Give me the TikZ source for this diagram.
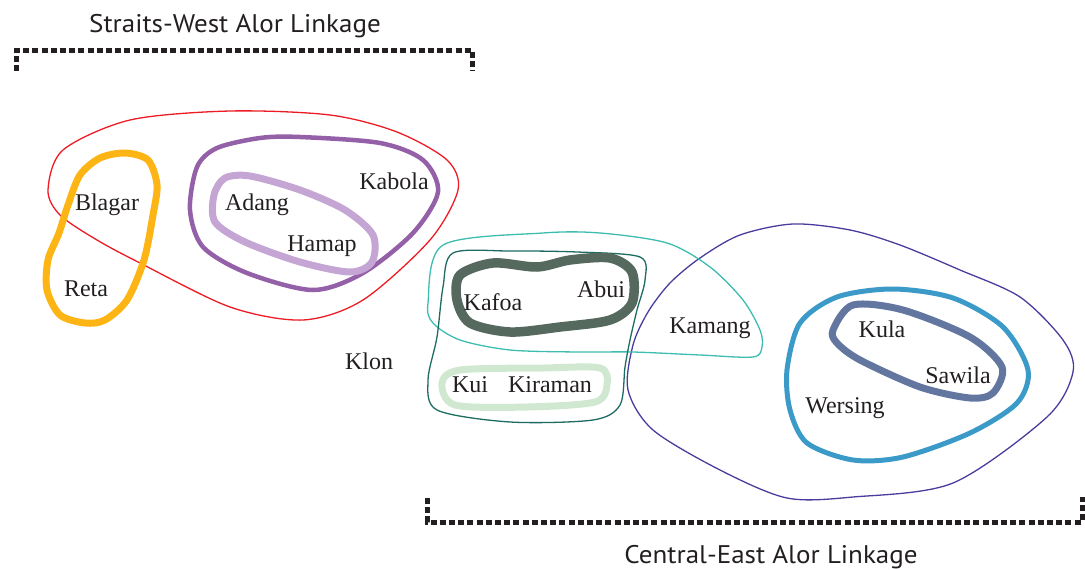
\documentclass[tikz,border=0pt]{standalone}
\usepackage{fontspec}
\setmainfont{Liberation Serif}
\newfontfamily\hdrfont[FakeStretch=1.06]{PT Sans}
\definecolor{cred}{HTML}{ED1C24}
\definecolor{corange}{HTML}{FDB515}
\definecolor{cpurple}{HTML}{9460A8}
\definecolor{clpurple}{HTML}{C4A5D3}
\definecolor{cteal}{HTML}{3DBDB1}
\definecolor{cdgreen}{HTML}{1E6B62}
\definecolor{cggreen}{HTML}{56695E}
\definecolor{clgreen}{HTML}{D1E8D0}
\definecolor{cindigo}{HTML}{483D9C}
\definecolor{cblue}{HTML}{3C9AC8}
\definecolor{cslate}{HTML}{6276A0}
\definecolor{ctext}{HTML}{231F20}
\tikzset{
  lang/.style={anchor=base, inner sep=0pt, text=ctext, font=\fontsize{24}{26}\selectfont},
  hdr/.style={anchor=base, inner sep=0pt, text=ctext, font=\hdrfont\fontsize{25.5}{28}\selectfont},
  bracket/.style={draw=ctext, line width=5pt, dash pattern=on 6pt off 3.2pt},
  thin/.style={line width=1.3pt},
}
\begin{document}
\begin{tikzpicture}[x=1pt,y=-1pt]
\useasboundingbox (0,0) rectangle (1085,570);
% red
\draw[cred, thin] plot[smooth cycle] coordinates {(48,190) (63,150) (130,120) (230,111) (330,115) (397,132) (447,160) (458,190) (430,240) (363,300) (303,320) (230,307) (140,263) (97,240) (60,215)};
% orange
\draw[corange, line width=7pt] plot[smooth cycle] coordinates {(80,175) (100,158) (125,153) (148,160) (157,185) (153,215) (144,260) (127,300) (105,320) (85,323) (60,315) (47,290) (48,260) (59,233) (68,205)};
% purple
\draw[cpurple, line width=4.5pt] plot[smooth cycle] coordinates {(197,167) (217,148) (260,138) (300,137) (380,143) (423,160) (438,192) (413,233) (363,273) (313,290) (247,273) (203,247) (190,210)};
% light purple
\draw[clpurple, line width=7pt] plot[smooth cycle] coordinates {(214,195) (225,178) (250,176) (300,190) (345,210) (373,235) (372,262) (350,272) (300,262) (245,242) (215,222)};
% indigo
\draw[cindigo, thin] plot[smooth cycle] coordinates {(628,390) (633,345) (648,312) (670,283) (700,258) (740,235) (793,224) (850,230) (900,245) (960,270) (1020,297) (1063,340) (1073,372) (1047,417) (953,483) (853,497) (787,498) (720,470) (653,430)};
% teal
\draw[cteal, thin] plot[smooth cycle] coordinates {(428,303) (443,245) (543,233) (600,233) (667,243) (710,267) (743,300) (760,330) (762,347) (753,357) (700,355) (633,352) (577,352) (510,350) (460,340) (433,323)};
% dark green thin
\draw[cdgreen, thin] plot[smooth cycle] coordinates {(453,253) (510,251) (577,252) (640,257) (645,280) (637,310) (630,340) (625,367) (620,405) (593,420) (510,422) (437,410) (428,380) (437,337) (443,287)};
% grey green thick
\draw[cggreen, line width=9.5pt] plot[smooth cycle] coordinates {(460,275) (493,263) (537,267) (570,260) (610,258) (632,272) (632,303) (610,320) (560,327) (510,332) (470,323) (457,300)};
% light green
\draw[clgreen, line width=7pt] plot[smooth cycle] coordinates {(442,383) (460,370) (543,368) (600,368) (607,385) (595,402) (527,407) (455,405)};
% blue
\draw[cblue, line width=5pt] plot[smooth cycle] coordinates {(787,370) (800,323) (837,297) (893,289) (953,298) (1003,327) (1028,370) (1017,403) (970,433) (903,457) (853,460) (807,443) (790,410)};
% slate
\draw[cslate, line width=7pt] plot[smooth cycle] coordinates {(833,330) (853,305) (903,310) (970,337) (1002,367) (993,393) (970,398) (920,387) (860,360) (837,343)};
% labels
\node[lang] (blagar) at (107,210) {Blagar};
\node[lang] (reta) at (86,296) {Reta};
\node[lang] (adang) at (257,210) {Adang};
\node[lang] (kabola) at (394,189) {Kabola};
\node[lang] (hamap) at (322,251) {Hamap};
\node[lang] (kafoa) at (493,310) {Kafoa};
\node[lang] (abui) at (601,297) {Abui};
\node[lang] (kamang) at (710,333) {Kamang};
\node[lang] (kui) at (470,392) {Kui};
\node[lang] (kiraman) at (550,392) {Kiraman};
\node[lang] (klon) at (369,369) {Klon};
\node[lang] (kula) at (882,337) {Kula};
\node[lang] (sawila) at (958,383) {Sawila};
\node[lang] (wersing) at (845,413) {Wersing};
% headers and brackets
\node[hdr] (sw) at (235,32) {Straits-West Alor Linkage};
\node[hdr] (ce) at (771,563) {Central-East Alor Linkage};
\coordinate (swl) at (16.5,71);
\coordinate (swr) at (472,71);
\draw[bracket] (swl) -- (16.5,50) -- (472,50) -- (swr);
\coordinate (cel) at (427,498);
\coordinate (cer) at (1082,497);
\draw[bracket] (cel) -- (427,522) -- (1082,522) -- (cer);
\end{tikzpicture}
\end{document}
